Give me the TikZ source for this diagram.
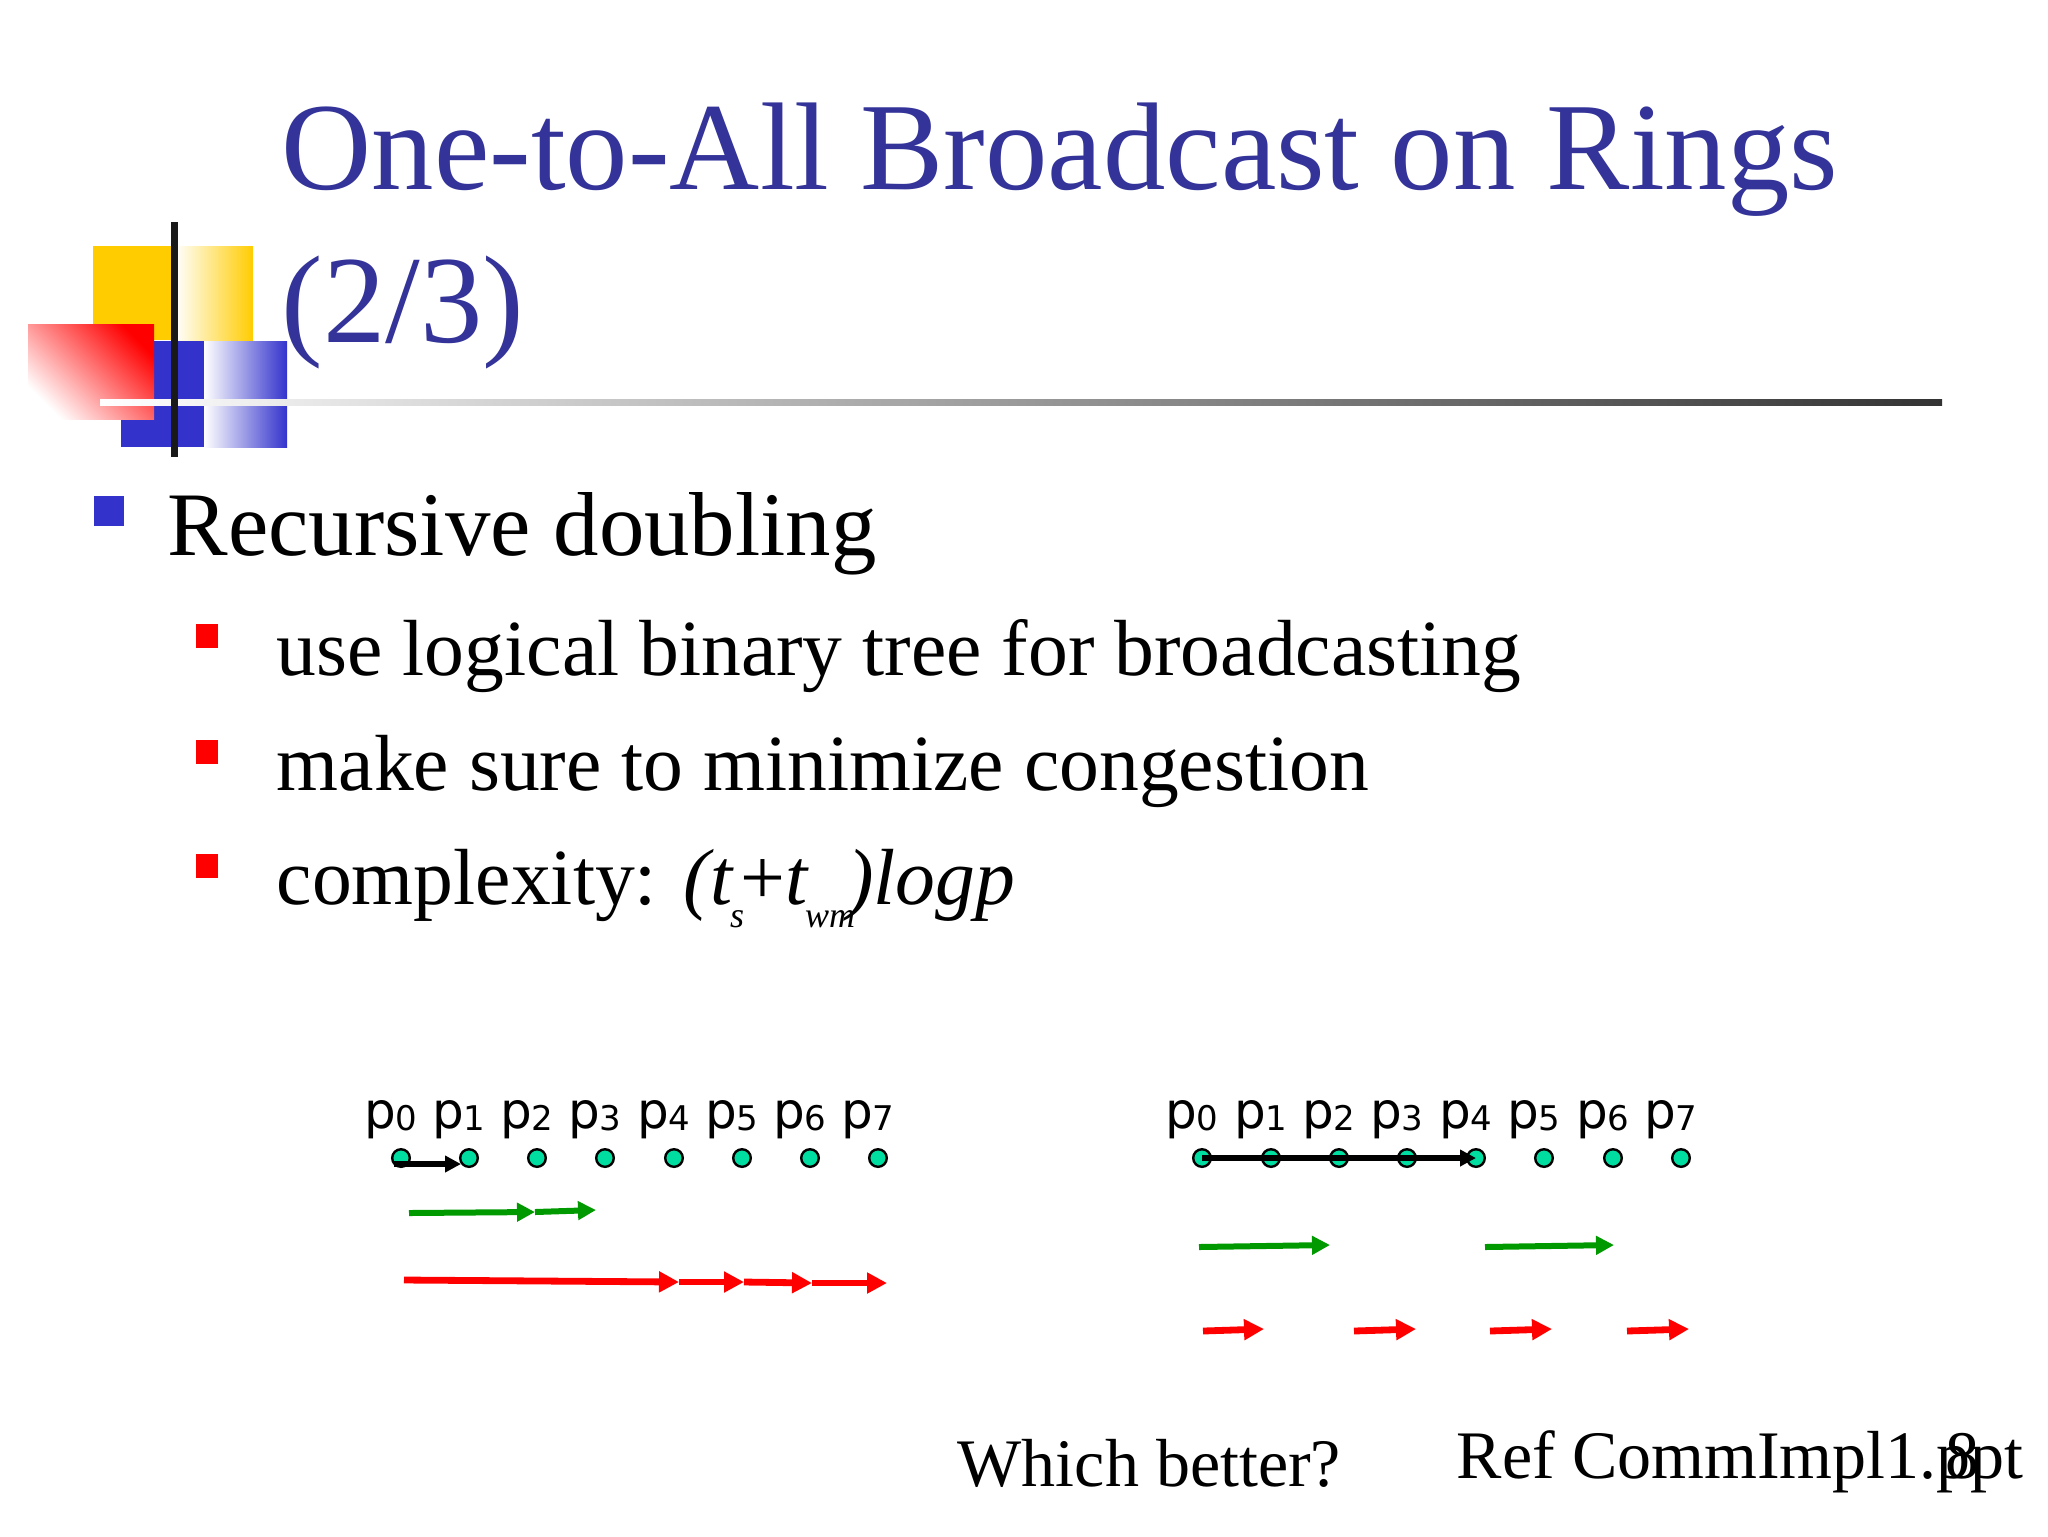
\documentclass[tikz,border=0pt]{standalone}
\usepackage{fontspec}
\setmainfont{Liberation Serif}
\newfontfamily\lblfont{DejaVu Sans}
\usetikzlibrary{arrows.meta}
\definecolor{ttl}{HTML}{333399}
\definecolor{bblue}{HTML}{3333CC}
\definecolor{gyel}{HTML}{FFCC00}
\definecolor{dotc}{HTML}{00DDA0}
\definecolor{grn}{HTML}{009900}
\newcommand{\lowsub}[1]{\raisebox{-0.3em}{\fontsize{9}{9}\selectfont #1}}
\newcommand{\pl}[1]{p\kern-0.3pt\raisebox{-0.05em}{\fontsize{8.5}{8.5}\selectfont #1}}
\begin{document}
\begin{tikzpicture}[x=0.25pt,y=-0.25pt,
  txt/.style={anchor=base west,inner sep=0},
  dotn/.style={circle,draw=black,fill=dotc,line width=0.6pt,minimum size=4.4pt,inner sep=0},
  plab/.style={anchor=base west,inner sep=0,font=\lblfont\fontsize{12.5}{12.5}\selectfont},
  blk/.style={line width=1.3pt,-{Triangle[length=4pt,width=4pt]}},
  gar/.style={grn,line width=1.5pt,-{Triangle[length=4.5pt,width=4.5pt]}},
  rar/.style={red,line width=1.7pt,-{Triangle[length=5pt,width=5pt]}}]
\useasboundingbox (0,0) rectangle (2048,1536);
% logo
\fill[gyel] (93,246) rectangle (175,340);
\shade[left color=white,right color=gyel] (175,246) rectangle (253,340);
\fill[bblue] (121,341) rectangle (204,447);
\shade[left color=white,right color=bblue] (204,341) rectangle (287,447);
\shade[left color=red,right color=white,shading angle=-45] (28,324) rectangle (154,419);
\shade[left color=white,right color=black!80] (100,399) rectangle (1942,405);
\fill[black!90] (171,222) rectangle (178,457);
% title
\node[txt,text=ttl,font=\fontsize{31.2}{31.2}\selectfont] (t1) at (281,189) {One-to-All Broadcast on Rings};
\node[txt,text=ttl,font=\fontsize{31.2}{31.2}\selectfont] (t2) at (281,342) {(2/3)};
% bullets
\fill[bblue] (94,496) rectangle (124,526);
\node[txt,font=\fontsize{22.7}{22.7}\selectfont] (b1) at (167,555) {Recursive doubling};
\fill[red] (196,624) rectangle (218,648);
\fill[red] (196,740) rectangle (218,764);
\fill[red] (196,854) rectangle (218,878);
\node[txt,font=\fontsize{19.9}{19.9}\selectfont] (b2) at (276,675) {use logical binary tree for broadcasting};
\node[txt,font=\fontsize{19.9}{19.9}\selectfont] (b3) at (276,790) {make sure to minimize congestion};
\node[txt,font=\fontsize{19.9}{19.9}\selectfont] (b4) at (276,904) {complexity: \textit{(t\kern-0.5pt\lowsub{s}}\kern-1pt+\textit{t\kern-0.5pt\lowsub{wm}\kern-2pt)logp}};
% left ring
\foreach \i/\x in {0/401,1/469,2/537,3/605,4/674,5/742,6/810,7/878}{
  \node[dotn] (a\i) at (\x,1158) {};
  \node[plab] (la\i) at (\x-37,1128) {\pl{\i}};
}
\coordinate (as) at (394,1164); \coordinate (ae) at (461,1164);
\draw[blk] (as) -- (ae);
\coordinate (g1) at (409,1213); \coordinate (g2) at (535,1212); \coordinate (g3) at (596,1210);
\draw[gar] (g1) -- (g2); \draw[gar] (g2) -- (g3);
\coordinate (r1) at (404,1280); \coordinate (r2) at (679,1282); \coordinate (r3) at (744,1282);
\coordinate (r4) at (812,1283); \coordinate (r5) at (887,1283);
\draw[rar] (r1)--(r2); \draw[rar] (r2)--(r3); \draw[rar] (r3)--(r4); \draw[rar] (r4)--(r5);
% right ring
\foreach \i/\x in {0/1202,1/1271,2/1339,3/1407,4/1476,5/1544,6/1613,7/1681}{
  \node[dotn] (b\i) at (\x,1158) {};
  \node[plab] (lb\i) at (\x-37,1128) {\pl{\i}};
}
\draw[blk] (b0.center) -- (b4.center);
\coordinate (h1) at (1199,1247); \coordinate (h2) at (1330,1245);
\coordinate (h3) at (1485,1247); \coordinate (h4) at (1614,1245);
\draw[gar] (h1)--(h2); \draw[gar] (h3)--(h4);
\foreach \s/\e in {1203/1264,1354/1416,1490/1552,1627/1689}{
  \coordinate (s\s) at (\s,1331); \coordinate (e\s) at (\e,1329);
  \draw[rar] (s\s) -- (e\s);
}
% footer
\node[txt,font=\fontsize{17}{17}\selectfont] (wb) at (957,1486) {Which better?};
\node[txt,font=\fontsize{17}{17}\selectfont] (rf) at (1456,1478) {Ref CommImpl1.ppt};
\node[anchor=base,inner sep=0,font=\fontsize{17}{17}\selectfont] (pg) at (1962,1478) {8};
\end{tikzpicture}
\end{document}
